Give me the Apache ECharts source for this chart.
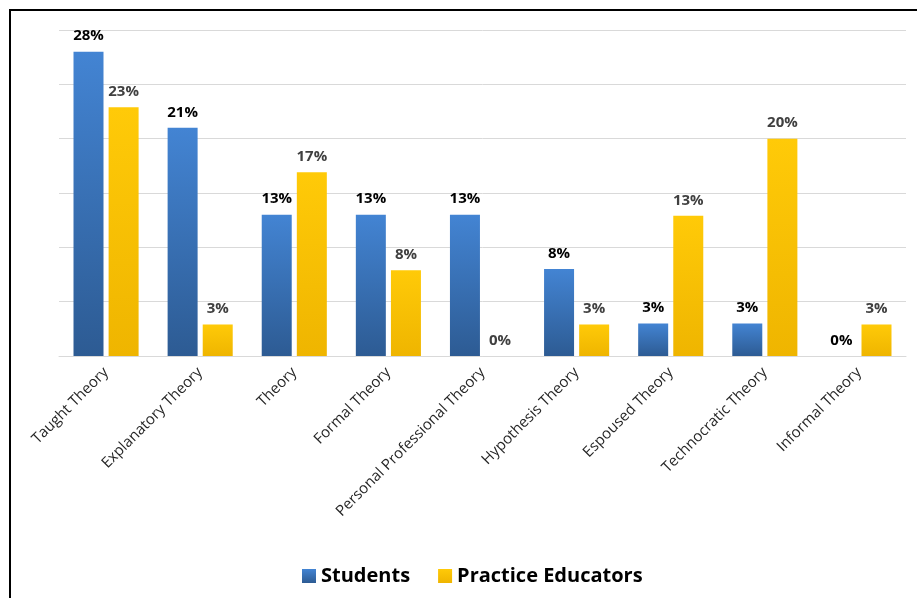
<!DOCTYPE html>
<html>
<head>
<meta charset="utf-8">
<script src="https://cdn.jsdelivr.net/npm/echarts@6/dist/echarts.min.js"></script>
<style>
html,body{margin:0;padding:0;background:#fff;}
#chart{width:917px;height:598px;}
</style>
</head>
<body>
<div id="chart"></div>
<script>
const categories = ["Taught Theory","Explanatory Theory","Theory","Formal Theory","Personal Professional Theory","Hypothesis Theory","Espoused Theory","Technocratic Theory","Informal Theory"];
const students = [28, 21, 13, 13, 13, 8, 3, 3, 0];
const educators = [22.9, 2.9, 16.9, 7.9, 0, 2.9, 12.9, 20, 2.9];
const seriesNames = ["Students", "Practice Educators"];

const FONT = '"Open Sans", "Liberation Sans", sans-serif';

const blueFill = new echarts.graphic.LinearGradient(0, 0, 0, 1, [
  {offset: 0, color: '#4384d3'},
  {offset: 1, color: '#2d5b93'}
]);
const yellowFill = new echarts.graphic.LinearGradient(0, 0, 0, 1, [
  {offset: 0, color: '#ffca08'},
  {offset: 1, color: '#efb500'}
]);

const chart = echarts.init(document.getElementById('chart'));
chart.setOption({
  backgroundColor: '#ffffff',
  animation: false,
  graphic: [{
    type: 'rect',
    shape: {x: 10, y: 10, width: 940, height: 640},
    style: {fill: 'none', stroke: '#000000', lineWidth: 2},
    silent: true,
    z: 100
  }],
  grid: {left: 59, right: 11, top: 30, bottom: 242, containLabel: false},
  legend: {
    left: 297, top: 561,
    itemWidth: 14, itemHeight: 14, itemGap: 28,
    icon: 'rect',
    textStyle: {fontFamily: FONT, fontWeight: 'bold', fontSize: 20, color: '#000000'},
    data: seriesNames
  },
  xAxis: {
    type: 'category',
    data: categories,
    axisTick: {show: false},
    axisLine: {lineStyle: {color: '#d9d9d9', width: 1}},
    axisLabel: {
      rotate: 45, interval: 0, margin: 14,
      fontFamily: FONT, fontSize: 15, color: '#262626'
    }
  },
  yAxis: {
    type: 'value', min: 0, max: 30, interval: 5,
    axisLabel: {show: false},
    axisLine: {show: false},
    axisTick: {show: false},
    splitLine: {lineStyle: {color: '#d9d9d9', width: 1}}
  },
  series: [
    {
      name: seriesNames[0], type: 'bar', data: students,
      barWidth: 30, barGap: '17%',
      itemStyle: {color: blueFill, borderWidth: 0},
      label: {
        show: true, position: 'top', distance: 8,
        fontFamily: FONT, fontWeight: 'bold', fontSize: 15, color: '#000000',
        formatter: p => Math.round(p.value) + '%'
      }
    },
    {
      name: seriesNames[1], type: 'bar', data: educators,
      barWidth: 30,
      itemStyle: {color: yellowFill, borderWidth: 0},
      label: {
        show: true, position: 'top', distance: 8,
        fontFamily: FONT, fontWeight: 'bold', fontSize: 15, color: '#404040',
        formatter: p => Math.round(p.value) + '%'
      }
    }
  ]
});
</script>
</body>
</html>
